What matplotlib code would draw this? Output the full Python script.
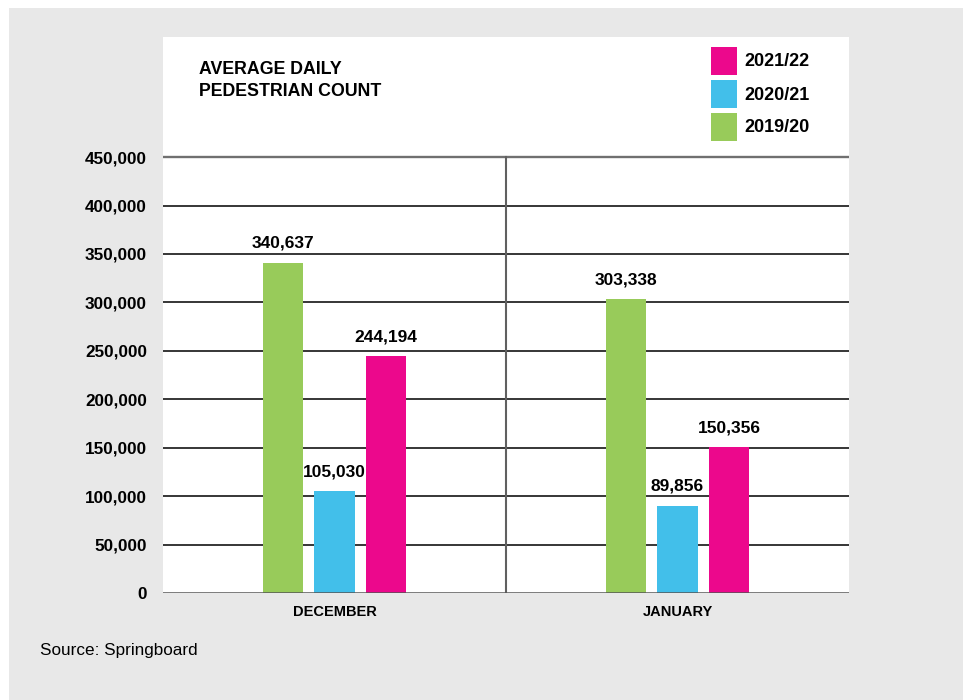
import numpy as np
import matplotlib.pyplot as plt
from matplotlib.patches import Rectangle

### Data
months = ['DECEMBER', 'JANUARY']
seasons = ['2019/20', '2020/21', '2021/22']
counts_1920 = [340637, 303338]
counts_2021 = [105030, 89856]
counts_2122 = [244194, 150356]
yticks = [0, 50000, 100000, 150000, 200000, 250000, 300000, 350000, 400000, 450000]

colors = {'2019/20': '#98cb5a', '2020/21': '#42bfea', '2021/22': '#ec088c'}

plt.rcParams['font.family'] = ['Liberation Sans', 'DejaVu Sans']

fig = plt.figure(figsize=(9.63, 7.0), dpi=100)
fig.patch.set_facecolor('white')
# gray backdrop
fig.patches.append(Rectangle((9 / 963, 0), 1, 692 / 700, transform=fig.transFigure,
                             facecolor='#e8e8e8', edgecolor='none', zorder=-10))

ax = fig.add_axes([163 / 963, 107 / 700, 686 / 963, 556 / 700])
ax.set_facecolor('white')
for sp in ax.spines.values():
    sp.set_visible(False)

x = np.arange(len(months))
offset = 0.15
width = 0.117
series = [counts_1920, counts_2021, counts_2122]
for i, (season, vals) in enumerate(zip(seasons, series)):
    pos = x + (i - 1) * offset
    ax.bar(pos, vals, width=width, color=colors[season], zorder=3)
    for px, v in zip(pos, vals):
        ax.text(px, v + 12500, f'{v:,}', ha='center', va='bottom',
                fontsize=12.5, fontweight='bold', zorder=4)

# grid lines
for t in yticks:
    if t == 450000:
        ax.axhline(t, color='#707070', lw=1.7, zorder=1)
    elif t == 0:
        ax.axhline(t, color='#555555', lw=1.8, zorder=5)
    else:
        ax.axhline(t, color='#141414', lw=1.2, zorder=1)
ax.plot([0.5, 0.5], [0, 450000], color='#606060', lw=1.5, zorder=2)

ax.set_xlim(-0.5, 1.5)
ax.set_ylim(0, 574000)
ax.set_yticks(yticks)
ax.set_yticklabels([f'{t:,}' for t in yticks], fontsize=12.3, fontweight='bold')
ax.set_xticks(x)
ax.set_xticklabels(months, fontsize=10.5, fontweight='bold')
ax.tick_params(axis='y', length=0, pad=11.5)
ax.tick_params(axis='x', length=0, pad=9)

# title
ax.text(36 / 686, 1 - 24 / 556, 'AVERAGE DAILY\nPEDESTRIAN COUNT', transform=ax.transAxes,
        ha='left', va='top', fontsize=12.8, fontweight='bold', linespacing=1.4)

# legend
leg_order = ['2021/22', '2020/21', '2019/20']
leg_y = [47, 80, 113]
for s, yy in zip(leg_order, leg_y):
    ax.add_patch(Rectangle(((711 - 163) / 686, 1 - (yy + 28 - 37) / 556), 26 / 686, 28 / 556,
                           transform=ax.transAxes, facecolor=colors[s], edgecolor='none'))
    ax.text((744 - 163) / 686, 1 - (yy + 15 - 37) / 556, s, transform=ax.transAxes,
            ha='left', va='center', fontsize=13, fontweight='bold')

fig.text(40 / 963, 1 - 651 / 700, 'Source: Springboard', ha='left', va='center', fontsize=12.3)

plt.savefig('out.png', dpi=100)
